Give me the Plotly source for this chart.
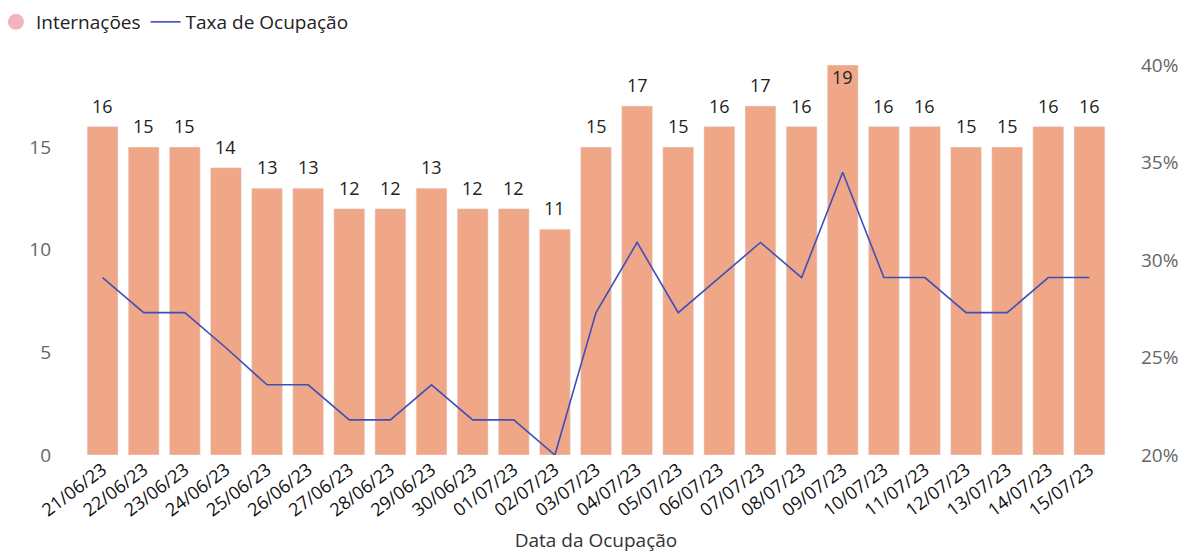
import plotly.graph_objects as go

datas = ["21/06/23", "22/06/23", "23/06/23", "24/06/23", "25/06/23", "26/06/23", "27/06/23",
         "28/06/23", "29/06/23", "30/06/23", "01/07/23", "02/07/23", "03/07/23", "04/07/23",
         "05/07/23", "06/07/23", "07/07/23", "08/07/23", "09/07/23", "10/07/23", "11/07/23",
         "12/07/23", "13/07/23", "14/07/23", "15/07/23"]
internacoes = [16, 15, 15, 14, 13, 13, 12, 12, 13, 12, 12, 11, 15, 17, 15, 16, 17, 16, 19,
               16, 16, 15, 15, 16, 16]
taxa_ocupacao = [29.1, 27.3, 27.3, 25.5, 23.6, 23.6, 21.8, 21.8, 23.6, 21.8, 21.8, 20.0,
                 27.3, 30.9, 27.3, 29.1, 30.9, 29.1, 34.5, 29.1, 29.1, 27.3, 27.3, 29.1, 29.1]
taxa_ticks = [20, 25, 30, 35, 40]
taxa_ticklabels = ["20%", "25%", "30%", "35%", "40%"]

FONT = "Open Sans"
BAR = "#F0A787"
LINE = "#3F4FB8"
Y_MAX = 19

fig = go.Figure()
fig.add_trace(go.Bar(
    x=datas, y=internacoes, marker_color=BAR, name="Internações", showlegend=False,
))
fig.add_trace(go.Scatter(
    x=[None], y=[None], mode="markers", name="Internações",
    marker=dict(symbol="circle", size=18, color="#F2B4B8"), showlegend=True,
))
fig.add_trace(go.Scatter(
    x=datas, y=taxa_ocupacao, mode="lines", name="Taxa de Ocupação",
    line=dict(color=LINE, width=1.6), yaxis="y2",
))

# data labels: above the bar, or just inside the top when the bar reaches the axis max
for d, v in zip(datas, internacoes):
    fig.add_annotation(
        x=d, y=v, xref="x", yref="y", text=str(v), showarrow=False,
        yanchor="middle", yshift=(-12 if v >= Y_MAX else 21),
        font=dict(family=FONT, size=18, color="#222222"),
    )

# page body has an 8px default margin, so the figure is sized/offset to compensate
fig.update_layout(
    width=1179, height=545,
    margin=dict(l=74, r=77, t=57, b=98, autoexpand=False),
    paper_bgcolor="white", plot_bgcolor="white",
    font=dict(family=FONT, size=16, color="#222222"),
    bargap=0.25,
    showlegend=True,
    legend=dict(orientation="h", xref="paper", yref="container",
                x=-0.0837, y=1 - 14 / 545, xanchor="left", yanchor="middle",
                font=dict(family=FONT, size=19, color="#222222"),
                itemwidth=30, tracegroupgap=0,
                bgcolor="rgba(0,0,0,0)"),
    xaxis=dict(
        type="category", tickangle=-37, showgrid=False, showline=False, ticks="",
        automargin=False,
        tickfont=dict(family=FONT, size=18, color="#111111"),
        title=dict(text="Data da Ocupação", font=dict(family=FONT, size=19, color="#333333"),
                   standoff=18),
    ),
    yaxis=dict(
        range=[0, Y_MAX], tickvals=[0, 5, 10, 15], showgrid=False, zeroline=False,
        showline=False, ticks="", ticklabelstandoff=30, automargin=False,
        tickfont=dict(family=FONT, size=19, color="#666666"),
    ),
    yaxis2=dict(
        range=[20, 40], tickvals=taxa_ticks, ticktext=taxa_ticklabels,
        overlaying="y", side="right", showgrid=False, zeroline=False, showline=False,
        ticks="", ticklabelstandoff=30, automargin=False,
        tickfont=dict(family=FONT, size=19, color="#666666"),
    ),
)

fig.write_html("out.html")
